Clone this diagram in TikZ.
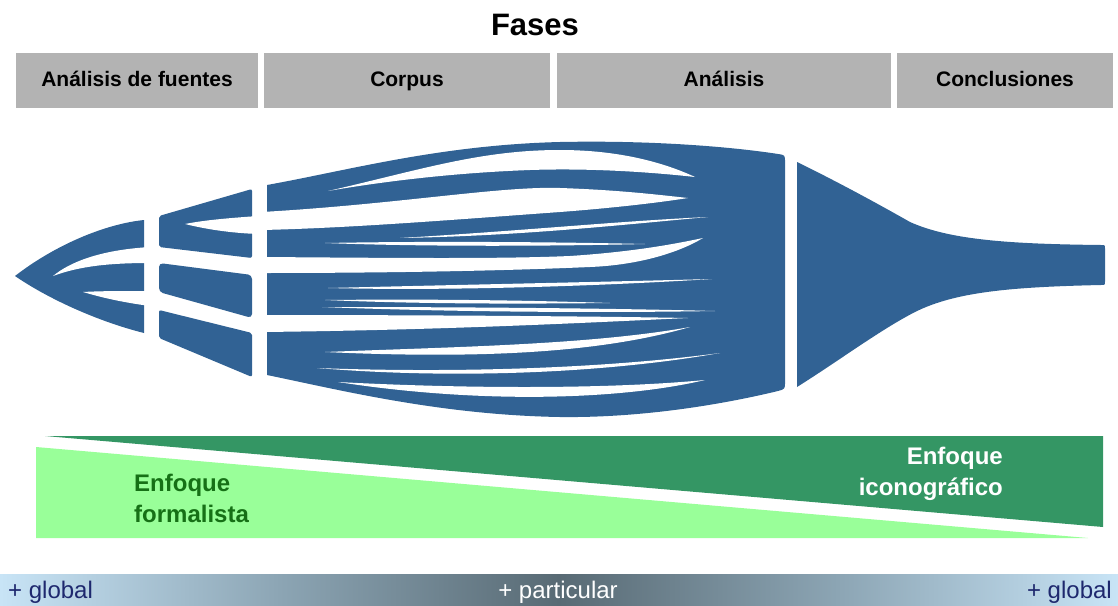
\documentclass[tikz,border=0pt]{standalone}
\usepackage{fontspec}
\setmainfont{Liberation Sans}
\definecolor{fiberblue}{RGB}{49,98,148}
\definecolor{phasegray}{RGB}{179,179,179}
\definecolor{lightgreen}{RGB}{153,255,153}
\definecolor{darkgreen}{RGB}{52,150,100}
\definecolor{formaltext}{RGB}{22,112,22}
\definecolor{barlight}{RGB}{200,228,246}
\definecolor{barmid}{RGB}{140,165,180}
\definecolor{bardark}{RGB}{88,106,116}
\definecolor{globaltext}{RGB}{30,40,110}
\begin{document}
\begin{tikzpicture}[x=1pt,y=-1pt,
  phase/.style={fill=phasegray, minimum height=55pt, inner sep=0pt,
    text height=15pt, text depth=4pt,
    font=\fontsize{21}{25}\selectfont\bfseries},
  fiber/.style={fill=fiberblue},
  cut/.style={fill=white},
  approach/.style={inner sep=0pt, font=\fontsize{24}{31}\selectfont\bfseries},
  scale label/.style={inner sep=0pt, font=\fontsize{24}{28}\selectfont}]
\useasboundingbox (0,0) rectangle (1118,605);

% title and phase headers
\node[font=\fontsize{31}{36}\selectfont\bfseries] (fases) at (535,25) {Fases};
\node[phase, minimum width=242pt] (p1) at (137,80.5) {Análisis de fuentes};
\node[phase, minimum width=286pt] (p2) at (407,80.5) {Corpus};
\node[phase, minimum width=334pt] (p3) at (724,80.5) {Análisis};
\node[phase, minimum width=216pt] (p4) at (1005,80.5) {Conclusiones};

% --- first column: pointed tip with two slits
\fill[fiber] (15,276) .. controls (55,245) and (105,224) .. (144,220)
  -- (144,333) .. controls (100,322) and (50,300) .. (15,276) -- cycle;
\fill[cut] (53,276) .. controls (70,262) and (100,250) .. (150,247)
  -- (150,263) .. controls (110,263) and (80,266) .. (53,276) -- cycle;
\fill[cut] (83,292) .. controls (100,291) and (120,291) .. (150,291)
  -- (150,306) .. controls (120,302) and (100,297) .. (83,292) -- cycle;

% --- second column: three blocks
\fill[fiber, rounded corners=2pt] (159,216) -- (252,189) -- (252,258) -- (159,247) -- cycle;
\fill[cut] (185,224) .. controls (205,220) and (230,218) .. (258,216)
  -- (258,234) .. controls (230,233) and (205,229) .. (185,224) -- cycle;
\fill[fiber, rounded corners=4pt] (159,263) -- (252,275) -- (252,318) -- (159,292) -- cycle;
\fill[fiber, rounded corners=2pt] (159,310) -- (252,333) -- (252,377) -- (159,338) -- cycle;

% --- main bundle of strands
\fill[fiber] (267,185) .. controls (350,170) and (440,145) .. (560,142)
  .. controls (660,140) and (740,148) .. (778,154)
  .. controls (785,155) .. (785,162) -- (785,382)
  .. controls (785,389) .. (778,391)
  .. controls (720,405) and (640,418) .. (560,417)
  .. controls (440,415) and (340,390) .. (267,375) -- cycle;
% gaps between the rows, open on the left
\fill[cut] (262,212) .. controls (400,204) and (500,186) .. (560,188)
  .. controls (620,190) and (660,195) .. (688,198)
  .. controls (650,204) and (600,209) .. (560,212)
  .. controls (450,220) and (350,228) .. (262,230) -- cycle;
\fill[cut] (262,257) .. controls (400,258) and (500,259) .. (570,256)
  .. controls (630,252) and (670,245) .. (703,238)
  .. controls (680,252) and (640,265) .. (590,267)
  .. controls (500,271) and (380,273) .. (262,273) -- cycle;
\fill[cut] (262,315) .. controls (400,315) and (580,316) .. (688,318)
  .. controls (600,322) and (450,330) .. (262,332) -- cycle;
% slits inside the rows
\fill[cut] (328,191) .. controls (420,170) and (480,150) .. (560,150)
  .. controls (620,150) and (665,163) .. (695,177)
  .. controls (650,172) and (590,168) .. (530,170)
  .. controls (450,173) and (380,182) .. (328,191) -- cycle;
\fill[cut] (325,243) .. controls (430,241) and (560,242) .. (645,244)
  .. controls (560,246) and (430,247) .. (325,243) -- cycle;
\fill[cut] (400,238) .. controls (520,231) and (620,221) .. (708,217)
  .. controls (620,225) and (520,236) .. (400,238) -- cycle;
\fill[cut] (328,288) .. controls (450,285) and (600,282) .. (712,279)
  .. controls (600,286) and (450,291) .. (328,288) -- cycle;
\fill[cut] (325,300) .. controls (420,299) and (520,300) .. (610,303)
  .. controls (520,304) and (420,304) .. (325,300) -- cycle;
\fill[cut] (322,307) .. controls (450,307) and (600,308) .. (715,311)
  .. controls (600,313) and (450,312) .. (322,307) -- cycle;
\fill[cut] (325,352) .. controls (450,347) and (590,345) .. (690,327)
  .. controls (610,350) and (500,360) .. (325,352) -- cycle;
\fill[cut] (317,368) .. controls (450,373) and (600,369) .. (720,353)
  .. controls (600,374) and (450,379) .. (317,368) -- cycle;
\fill[cut] (338,382) .. controls (450,388) and (600,390) .. (705,380)
  .. controls (620,400) and (480,404) .. (338,382) -- cycle;

% --- funnel on the right
\fill[fiber] (797,162) .. controls (840,183) and (880,205) .. (910,222)
  .. controls (950,240) and (1010,244) .. (1101,245)
  .. controls (1105,245) .. (1105,249) -- (1105,281)
  .. controls (1105,285) .. (1101,285)
  .. controls (1010,287) and (955,292) .. (915,312)
  .. controls (880,330) and (840,360) .. (797,387) -- cycle;

% --- approach wedges
\fill[darkgreen] (45,436) -- (1103,436) -- (1103,527) -- cycle;
\fill[lightgreen] (36,447) -- (1088,538) -- (36,538) -- cycle;
\node[approach, text=formaltext, align=left, anchor=north west] (formal) at (134,474) {Enfoque\\formalista};
\node[approach, text=white, align=right, anchor=north east] (icono) at (1003,447) {Enfoque\\iconográfico};

% --- scale bar
\shade[left color=barlight, right color=barmid] (0,574) rectangle (280,605);
\shade[left color=barmid, right color=bardark] (279.5,574) rectangle (559,605);
\shade[left color=bardark, right color=barmid] (558.5,574) rectangle (838,605);
\shade[left color=barmid, right color=barlight] (837.5,574) rectangle (1118,605);
\node[scale label, text=globaltext, anchor=base west] (gl) at (8,598) {+ global};
\node[scale label, text=white, anchor=base] (pa) at (558,598) {+ particular};
\node[scale label, text=globaltext, anchor=base east] (gr) at (1112,598) {+ global};
\end{tikzpicture}
\end{document}
